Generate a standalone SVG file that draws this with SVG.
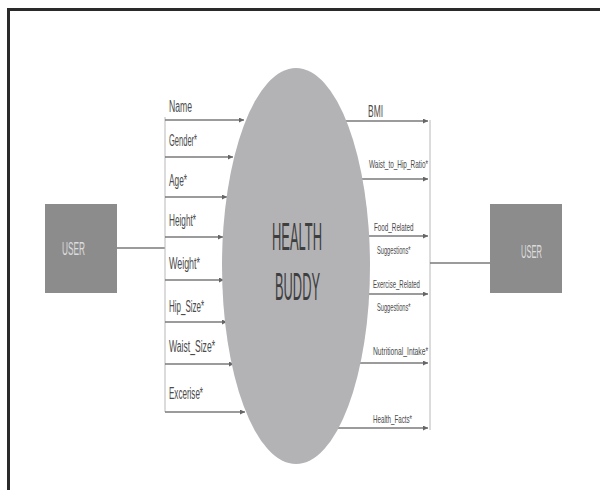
<svg xmlns="http://www.w3.org/2000/svg" width="600" height="490" viewBox="0 0 600 490">
<style>
.lbl{font-family:"Liberation Sans",Arial,sans-serif;fill:#4a4a4a}
.l{font-size:16px}
.r{font-size:11px}
.ln{stroke:#7a7a7a;stroke-width:1.3;fill:none}
.vl{stroke:#b8b8b8;stroke-width:1;fill:none}
.box{fill:#8c8c8c}
.ut{font-family:"Liberation Sans",Arial,sans-serif;font-size:19px;fill:#dcdcdc}
.ct{font-family:"Liberation Sans",Arial,sans-serif;font-size:38px;fill:#3e3e3e}
</style>
<defs>
<marker id="ah" viewBox="0 0 6 6" refX="6" refY="3" markerWidth="5" markerHeight="5" orient="auto" markerUnits="userSpaceOnUse">
<path d="M0,0 L6,3 L0,6 z" fill="#666"/>
</marker>
</defs>
<rect x="0" y="0" width="600" height="490" fill="#ffffff"/>
<rect x="8.5" y="9.5" width="600" height="490" fill="none" stroke="#2a2a2a" stroke-width="3"/>

<g id="connectors">
<line class="ln" x1="117" y1="248" x2="165" y2="248"/>
<line class="vl" x1="165" y1="117" x2="165" y2="412"/>
<line class="ln" x1="165" y1="120" x2="244" y2="120" marker-end="url(#ah)"/>
<line class="ln" x1="165" y1="157" x2="233" y2="157" marker-end="url(#ah)"/>
<line class="ln" x1="165" y1="197" x2="227" y2="197" marker-end="url(#ah)"/>
<line class="ln" x1="165" y1="237" x2="223" y2="237" marker-end="url(#ah)"/>
<line class="ln" x1="165" y1="280" x2="224" y2="280" marker-end="url(#ah)"/>
<line class="ln" x1="165" y1="322" x2="227" y2="322" marker-end="url(#ah)"/>
<line class="ln" x1="165" y1="364" x2="234" y2="364" marker-end="url(#ah)"/>
<line class="ln" x1="165" y1="412" x2="245" y2="412" marker-end="url(#ah)"/>

<line class="ln" x1="346" y1="121" x2="428" y2="121" marker-end="url(#ah)"/>
<line class="ln" x1="361" y1="179" x2="428" y2="179" marker-end="url(#ah)"/>
<line class="ln" x1="368" y1="236" x2="428" y2="236" marker-end="url(#ah)"/>
<line class="ln" x1="368" y1="294" x2="428" y2="294" marker-end="url(#ah)"/>
<line class="ln" x1="360" y1="363" x2="428" y2="363" marker-end="url(#ah)"/>
<line class="ln" x1="338" y1="428" x2="428" y2="428" marker-end="url(#ah)"/>
<line class="vl" x1="430" y1="120" x2="430" y2="430"/>
<line class="ln" x1="430" y1="263" x2="490" y2="263"/>
</g>

<g id="user-left">
<rect class="box" x="45" y="204" width="72" height="89"/>
<text class="ut" x="62" y="255" textLength="23" lengthAdjust="spacingAndGlyphs">USER</text>
</g>

<g id="user-right">
<rect class="box" x="490" y="204" width="72" height="89"/>
<text class="ut" x="521" y="258" textLength="21" lengthAdjust="spacingAndGlyphs">USER</text>
</g>

<g id="health-buddy">
<ellipse cx="296" cy="266" rx="74" ry="198" fill="#b3b3b6"/>
<text class="ct" x="272" y="250" textLength="50" lengthAdjust="spacingAndGlyphs">HEALTH</text>
<text class="ct" x="275" y="300" textLength="45" lengthAdjust="spacingAndGlyphs">BUDDY</text>
</g>

<g id="inputs">
<text class="lbl l" x="169" y="112" textLength="23" lengthAdjust="spacingAndGlyphs">Name</text>
<text class="lbl l" x="169" y="146" textLength="28" lengthAdjust="spacingAndGlyphs">Gender*</text>
<text class="lbl l" x="169" y="186" textLength="18" lengthAdjust="spacingAndGlyphs">Age*</text>
<text class="lbl l" x="169" y="226" textLength="27" lengthAdjust="spacingAndGlyphs">Height*</text>
<text class="lbl l" x="169" y="269" textLength="31" lengthAdjust="spacingAndGlyphs">Weight*</text>
<text class="lbl l" x="169" y="312" textLength="35" lengthAdjust="spacingAndGlyphs">Hip_Size*</text>
<text class="lbl l" x="169" y="352" textLength="46" lengthAdjust="spacingAndGlyphs">Waist_Size*</text>
<text class="lbl l" x="169" y="399" textLength="34" lengthAdjust="spacingAndGlyphs">Excerise*</text>
</g>

<g id="outputs">
<text class="lbl" style="font-size:16px" x="368" y="117" textLength="15" lengthAdjust="spacingAndGlyphs">BMI</text>
<text class="lbl r" x="369" y="168" textLength="59" lengthAdjust="spacingAndGlyphs">Waist_to_Hip_Ratio*</text>
<text class="lbl" font-size="10" transform="translate(374,231) scale(0.63,1)">Food_Related</text>
<text class="lbl" font-size="10" transform="translate(377,254) scale(0.57,1)">Suggestions*</text>
<text class="lbl" font-size="10" transform="translate(373,288) scale(0.6,1)">Exercise_Related</text>
<text class="lbl" font-size="10" transform="translate(377,311) scale(0.57,1)">Suggestions*</text>
<text class="lbl r" x="373" y="355" textLength="55" lengthAdjust="spacingAndGlyphs">Nutritional_Intake*</text>
<text class="lbl r" x="373" y="423" textLength="39" lengthAdjust="spacingAndGlyphs">Health_Facts*</text>
</g>
</svg>
